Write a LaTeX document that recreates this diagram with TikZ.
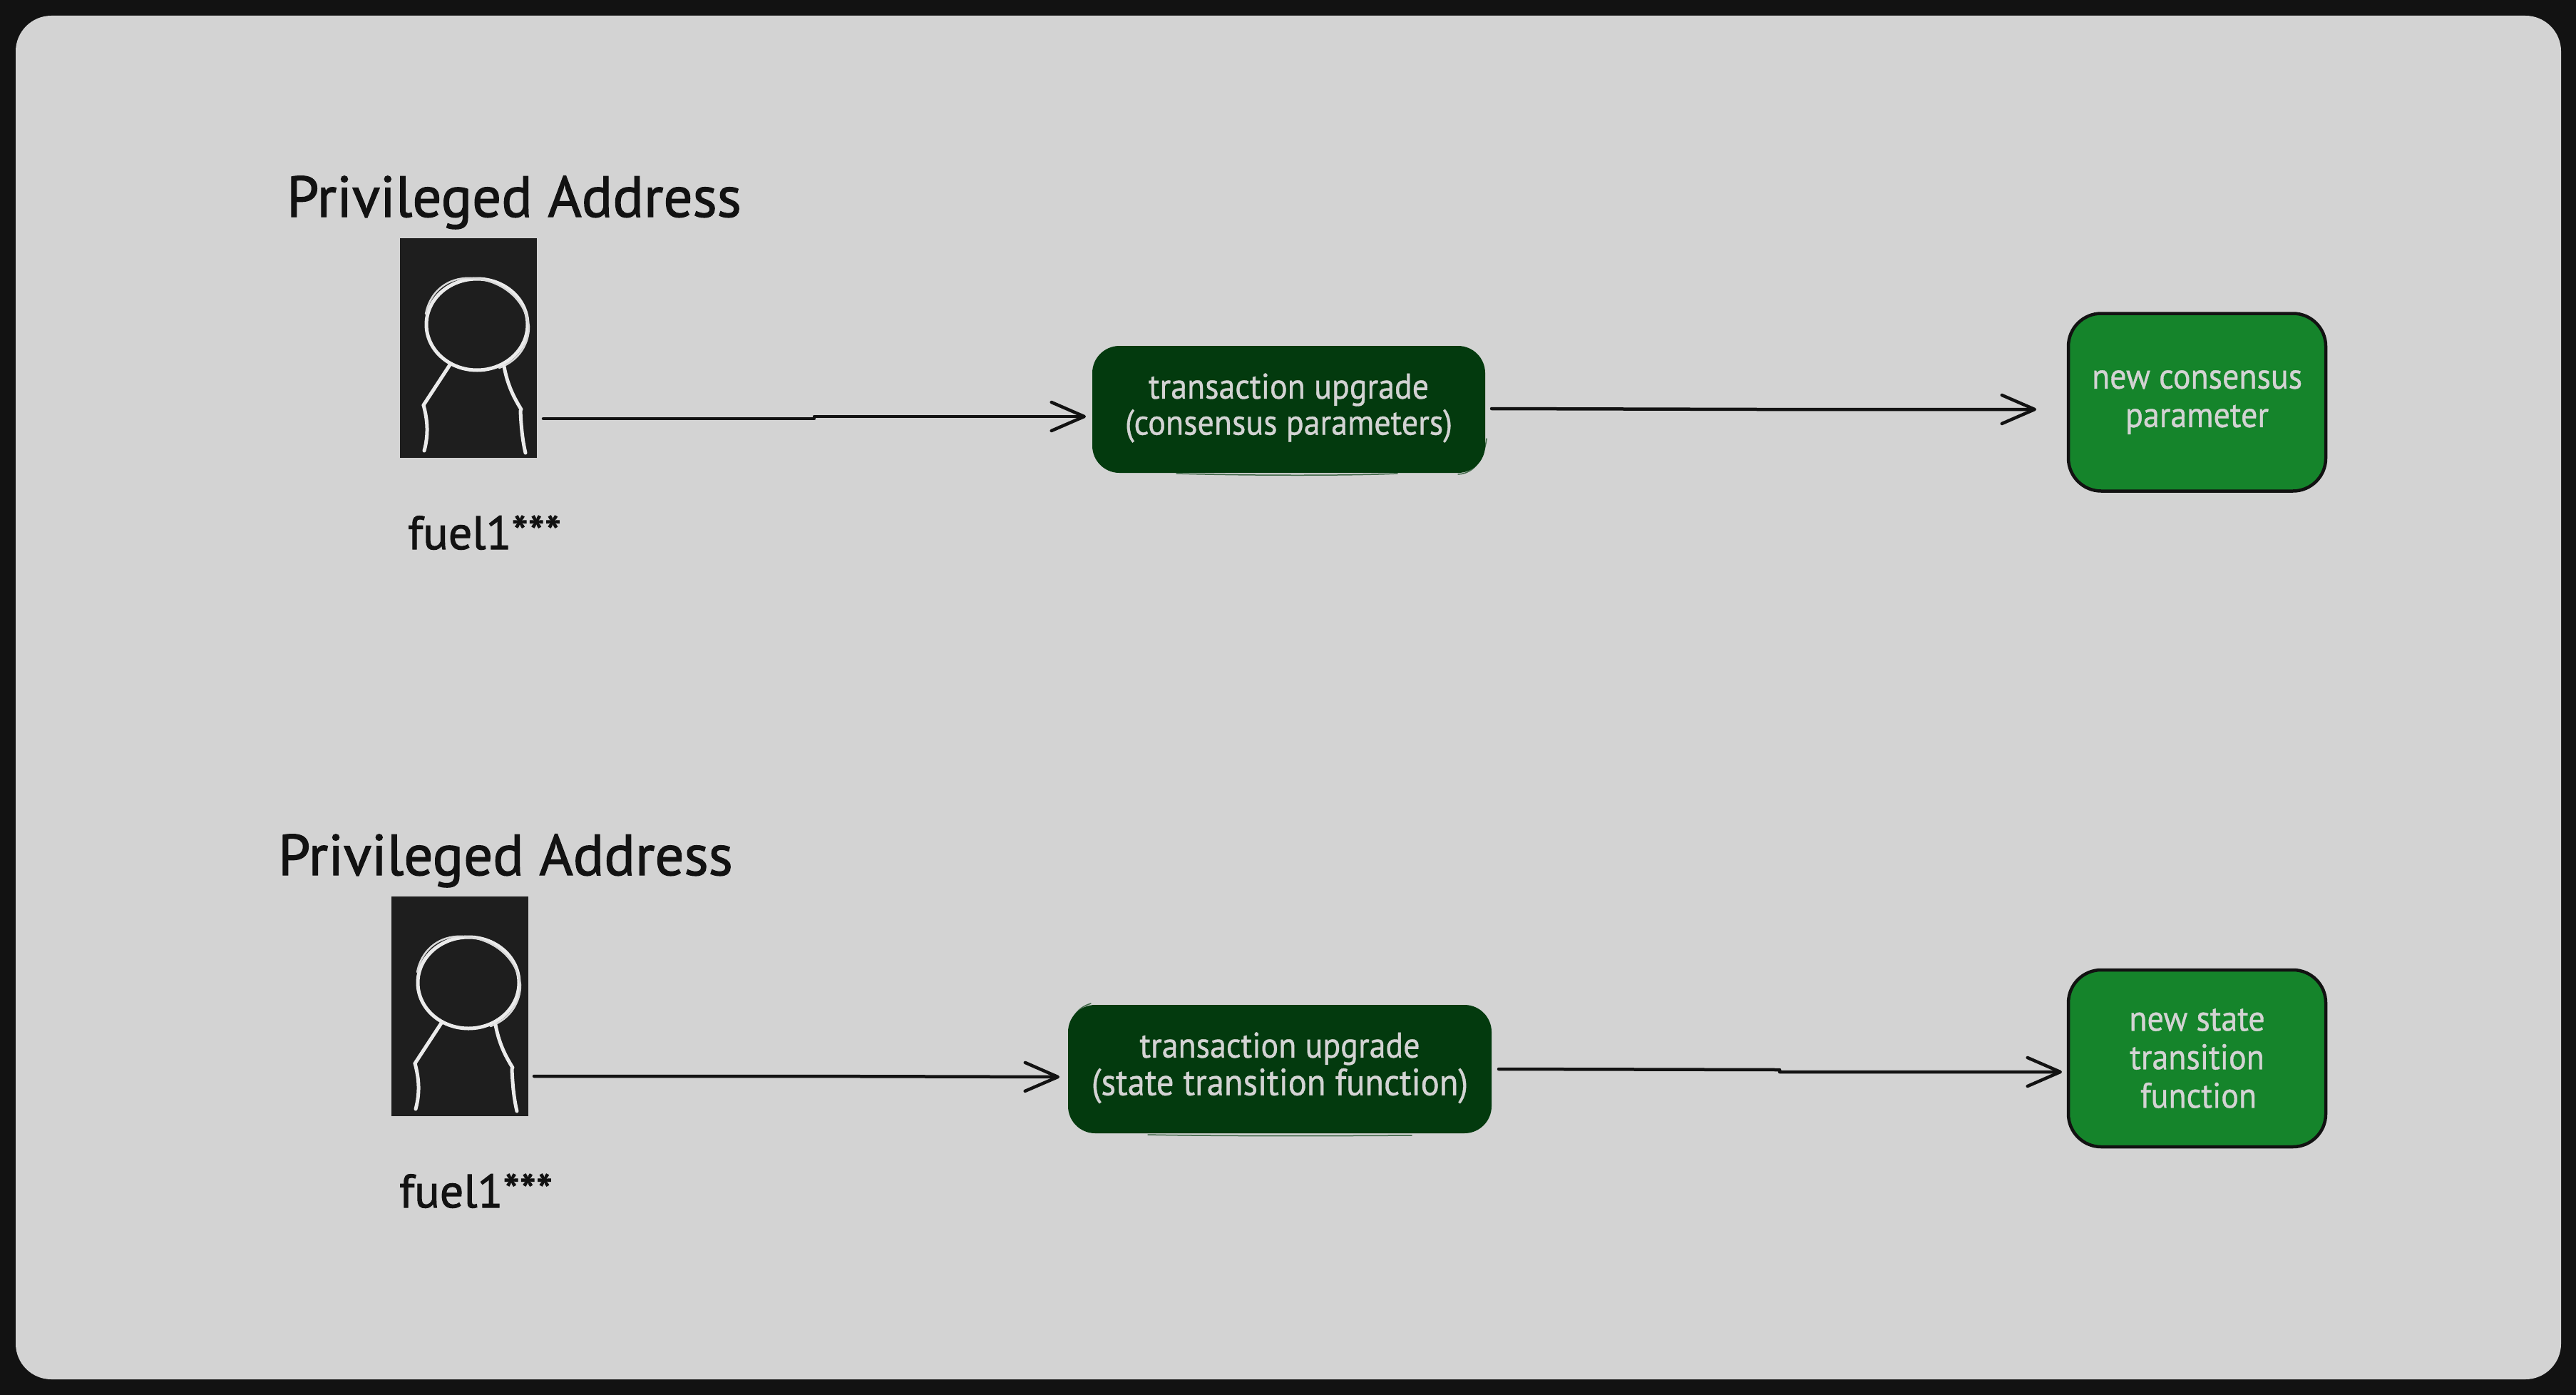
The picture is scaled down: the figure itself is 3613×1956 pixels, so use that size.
\documentclass[tikz,border=0pt]{standalone}
\usepackage{fontspec}
\setmainfont{PT Sans}
\newfontfamily\handfont[FakeBold=1.5]{PT Sans}
\newfontfamily\boxfont[FakeStretch=0.92,FakeBold=0.8]{PT Sans}
\usetikzlibrary{arrows.meta}
\definecolor{pagebg}{HTML}{121212}
\definecolor{panelbg}{HTML}{D3D3D3}
\definecolor{figbg}{HTML}{1E1E1E}
\definecolor{darkbox}{HTML}{033A0E}
\definecolor{greenbox}{HTML}{15842B}
\tikzset{
  headline/.style={font=\handfont\fontsize{81}{90}\selectfont, text=pagebg, anchor=base west, inner sep=0pt},
  addrline/.style={font=\handfont\fontsize{66}{72}\selectfont, text=pagebg, anchor=base west, inner sep=0pt},
  figcard/.style={fill=figbg, anchor=north west, inner sep=0pt, minimum width=192pt, minimum height=308pt},
  sketch/.style={draw=white!92!black, line width=5pt, line cap=round, line join=round},
  sketchthin/.style={draw=white!85!black, line width=2.5pt, line cap=round},
  txbox/.style={font=\boxfont\fontsize{50}{50}\selectfont, text=panelbg, align=center, inner sep=0pt, anchor=center, fill=darkbox, rounded corners=38pt},
  resultbox/.style={font=\boxfont\fontsize{50}{54}\selectfont, text=panelbg, align=center, inner sep=0pt, anchor=center, fill=greenbox, draw=pagebg, line width=4.5pt, rounded corners=46pt},
  conn/.style={draw=pagebg, line width=4.5pt, line cap=round, line join=round, -{Straight Barb[length=46pt,width=40pt,line width=4.5pt,round]}},
  stray/.style={draw=darkbox, line width=1.5pt, line cap=round, opacity=.7},
}
\newcommand{\actorcard}[3]{%
  \begin{scope}[shift={(#2,#3)}]
    \node[headline] (head#1) at (402,304) {Privileged Address};
    \node[figcard] (card#1) at (561,334) {};
    \node[addrline] (addr#1) at (572,770) {fuel1***};
    \draw[sketch] (669,455) ellipse [x radius=71, y radius=64];
    \draw[sketchthin] (597,440) .. controls (603,410) and (625,392) .. (652,390)
      .. controls (690,388) and (735,410) .. (742,458) .. controls (742,480) and (730,505) .. (700,516);
    \draw[sketch] (632,510) -- (594,568);
    \draw[sketch] (594,568) .. controls (600,590) and (601,610) .. (595,632);
    \draw[sketch] (707,514) .. controls (712,540) and (720,556) .. (731,574);
    \draw[sketch] (730,576) .. controls (731,600) and (733,618) .. (737,635);
  \end{scope}%
}
\pagestyle{empty}
\begin{document}
\begin{tikzpicture}[x=1pt,y=-1pt]
\useasboundingbox (0,0) rectangle (3613,1956);
\fill[pagebg] (0,0) rectangle (3613,1956);
\fill[panelbg, rounded corners=50pt] (22,22) rectangle (3592,1934);

\actorcard{A}{0}{0}
\actorcard{B}{-12}{923}

% transaction boxes
\node[txbox, minimum width=551pt, minimum height=178pt] (txA) at (1807.5,574) {\raisebox{-11pt}{\begin{tabular}{@{}c@{}}transaction upgrade\\[0pt](consensus parameters)\end{tabular}}};
\node[txbox, minimum width=594pt, minimum height=180pt] (txB) at (1795,1499) {\raisebox{-10pt}{\begin{tabular}{@{}c@{}}transaction upgrade\\[0pt]\fontsize{53}{50}\selectfont(state transition function)\end{tabular}}};

% stray outlines
\draw[stray] (1650,664) .. controls (1750,667) and (1900,667) .. (1960,664);
\draw[stray] (2045,665) .. controls (2070,664) and (2082,640) .. (2085,615);
\draw[stray] (1610,1591) .. controls (1700,1593) and (1850,1593) .. (1980,1592);
\draw[stray] (1500,1470) .. controls (1497,1440) and (1503,1415) .. (1530,1407);

% result boxes
\node[resultbox, minimum width=361pt, minimum height=249pt] (resA) at (3081.5,564) {new consensus\hspace{18pt}\\parameter};
\node[resultbox, minimum width=361pt, minimum height=248pt] (resB) at (3081.5,1484) {new state\hspace{8pt}\\transition\hspace{8pt}\\\hspace{4pt}function};

% connector ends and kinks
\coordinate (a1s) at (762,587);
\coordinate (a1k) at (1142,587);
\coordinate (a1j) at (1142,584);
\coordinate (a1e) at (1523,584);
\coordinate (a2s) at (2092,573);
\coordinate (a2k) at (2466,574);
\coordinate (a2e) at (2856,574);
\coordinate (b1s) at (749,1509);
\coordinate (b1k) at (1122,1509);
\coordinate (b1e) at (1486,1510);
\coordinate (b2s) at (2102,1499);
\coordinate (b2k) at (2496,1500);
\coordinate (b2j) at (2496,1503);
\coordinate (b2e) at (2892,1503);

\draw[conn] (a1s) -- (a1k) -- (a1j) -- (a1e);
\draw[conn] (a2s) -- (a2k) -- (a2e);
\draw[conn] (b1s) -- (b1k) -- (b1e);
\draw[conn] (b2s) -- (b2k) -- (b2j) -- (b2e);
\end{tikzpicture}
\end{document}
